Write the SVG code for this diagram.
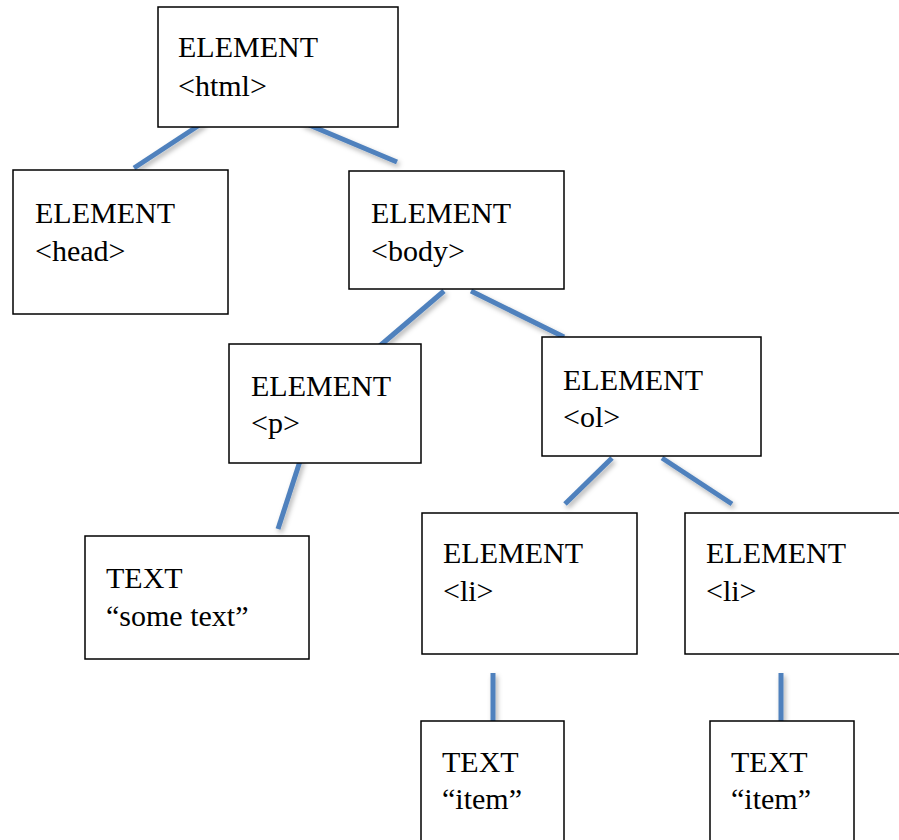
<svg xmlns="http://www.w3.org/2000/svg" width="899" height="840" viewBox="0 0 899 840">
<style>
.box{fill:#fff;stroke:#000;stroke-width:1.5}
.t{font-family:"Liberation Serif","Times New Roman",serif;font-size:30px;fill:#000}
.c{stroke:#4F81BD;stroke-width:5;fill:none}
</style>
<defs>
<filter id="sh" x="-50%" y="-50%" width="200%" height="200%">
<feDropShadow dx="2" dy="3" stdDeviation="2.5" flood-color="#000" flood-opacity="0.3"/>
</filter>
</defs>
<rect width="899" height="840" fill="#fff"/>
<g id="connectors" filter="url(#sh)">
<line class="c" x1="204" y1="122" x2="134" y2="168"/>
<line class="c" x1="302" y1="122" x2="397" y2="162"/>
<line class="c" x1="444" y1="291" x2="375" y2="350"/>
<line class="c" x1="471" y1="291" x2="564" y2="337"/>
<line class="c" x1="301" y1="458" x2="278" y2="529"/>
<line class="c" x1="612" y1="458" x2="565" y2="504"/>
<line class="c" x1="662" y1="458" x2="732" y2="504"/>
<line class="c" x1="493" y1="673" x2="493" y2="721"/>
<line class="c" x1="781" y1="673" x2="781" y2="721"/>
</g>
<g id="html"><rect class="box" x="158" y="7" width="240" height="120"/><text class="t" x="178" y="57">ELEMENT</text><text class="t" x="178" y="96">&lt;html&gt;</text></g>
<g id="head"><rect class="box" x="13" y="170" width="215" height="144"/><text class="t" x="35" y="223">ELEMENT</text><text class="t" x="35" y="261">&lt;head&gt;</text></g>
<g id="body"><rect class="box" x="349" y="171" width="215" height="118"/><text class="t" x="371" y="223">ELEMENT</text><text class="t" x="371" y="261">&lt;body&gt;</text></g>
<g id="p"><rect class="box" x="229" y="344" width="192" height="119"/><text class="t" x="251" y="396">ELEMENT</text><text class="t" x="251" y="433">&lt;p&gt;</text></g>
<g id="ol"><rect class="box" x="542" y="337" width="219" height="119"/><text class="t" x="563" y="390">ELEMENT</text><text class="t" x="563" y="427">&lt;ol&gt;</text></g>
<g id="text-some"><rect class="box" x="85" y="536" width="224" height="123"/><text class="t" x="106" y="588">TEXT</text><text class="t" x="106" y="626">“some text”</text></g>
<g id="li1"><rect class="box" x="422" y="513" width="215" height="141"/><text class="t" x="443" y="563">ELEMENT</text><text class="t" x="443" y="601">&lt;li&gt;</text></g>
<g id="li2"><rect class="box" x="685" y="513" width="220" height="141"/><text class="t" x="706" y="563">ELEMENT</text><text class="t" x="706" y="601">&lt;li&gt;</text></g>
<g id="item1"><rect class="box" x="421" y="721" width="143" height="130"/><text class="t" x="442" y="772">TEXT</text><text class="t" x="442" y="809">“item”</text></g>
<g id="item2"><rect class="box" x="710" y="721" width="144" height="130"/><text class="t" x="731" y="772">TEXT</text><text class="t" x="731" y="809">“item”</text></g>
</svg>
